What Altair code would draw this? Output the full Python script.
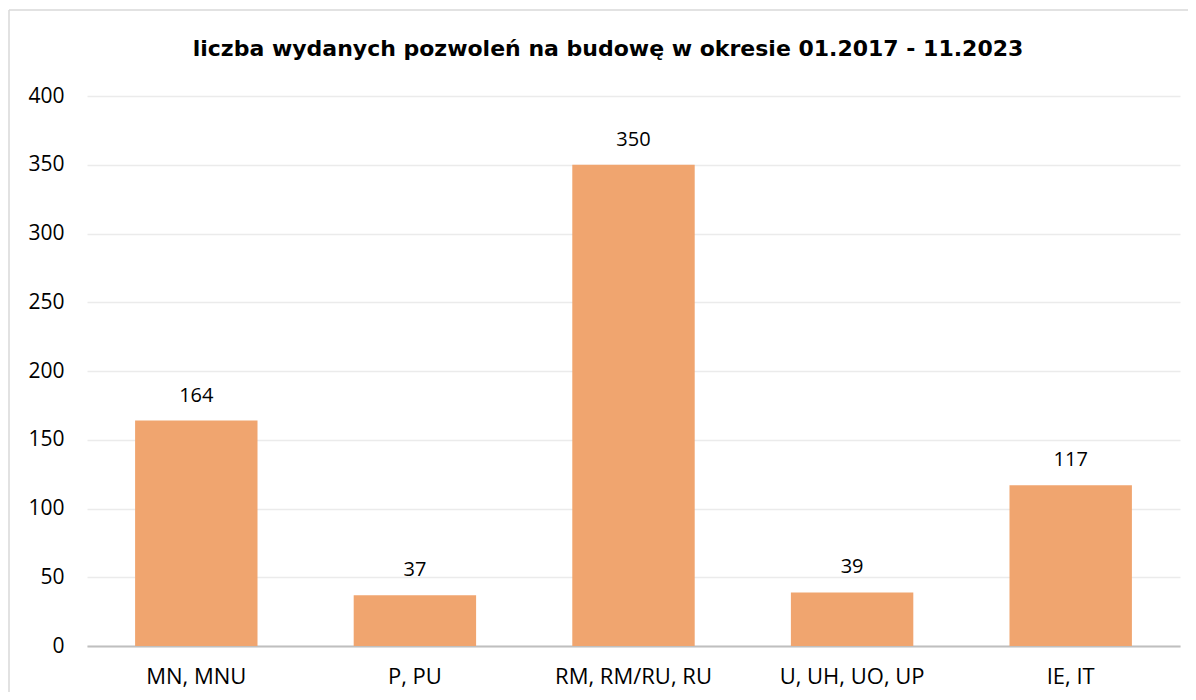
import altair as alt
import pandas as pd

categories = ["MN, MNU", "P, PU", "RM, RM/RU, RU", "U, UH, UO, UP", "IE, IT"]
values = [164, 37, 350, 39, 117]
y_ticks = [0, 50, 100, 150, 200, 250, 300, 350, 400]
title_text = "liczba wydanych pozwoleń na budowę w okresie 01.2017 - 11.2023"

df = pd.DataFrame({"kategoria": categories, "liczba": values})
title_df = pd.DataFrame({"t": [title_text]})

FONT = "Open Sans"
BAR = "#F0A56F"

x_enc = alt.X("kategoria:N", sort=categories,
              scale=alt.Scale(paddingInner=0.44, paddingOuter=0.22),
              axis=alt.Axis(title=None, labelAngle=0, labelFontSize=22, labelFont=FONT,
                            labelColor="#000000", labelPadding=20, ticks=False,
                            domainColor="#BFBFBF", domainWidth=2))
y_enc = alt.Y("liczba:Q", scale=alt.Scale(domain=[0, 400], nice=False),
              axis=alt.Axis(title=None, values=y_ticks, labelFontSize=21, labelFont=FONT,
                            labelColor="#000000", labelPadding=23, ticks=False, domain=False,
                            gridColor="#EBEBEB", gridWidth=1.5))

base = alt.Chart(df)
bars = base.mark_bar(color=BAR).encode(x=x_enc, y=y_enc)
labels = base.mark_text(baseline="bottom", dy=-15, fontSize=20, font=FONT, color="#000000").encode(
    x=alt.X("kategoria:N", sort=categories), y="liczba:Q", text="liczba:Q")

title = alt.Chart(title_df).mark_text(fontSize=22, font="DejaVu Sans", fontWeight="bold",
                                      color="#000000", align="center",
                                      baseline="alphabetic").encode(
    x=alt.value(521), y=alt.value(-40), text="t:N")

frame_top = alt.Chart(title_df).mark_rule(color="#D9D9D9", strokeWidth=1.5).encode(
    x=alt.value(-78), x2=alt.value(1110), y=alt.value(-86))
frame_left = alt.Chart(title_df).mark_rule(color="#D9D9D9", strokeWidth=1.5).encode(
    x=alt.value(-78), y=alt.value(-86), y2=alt.value(600))

chart = alt.layer(frame_top, frame_left, title, bars, labels).properties(
    width=1093, height=550,
    autosize=alt.AutoSizeParams(type="none"),
    padding={"left": 79, "top": 88, "right": 8, "bottom": 46},
).configure_view(stroke=None)

chart.save("out.html", embed_options={"renderer": "svg", "actions": False})
